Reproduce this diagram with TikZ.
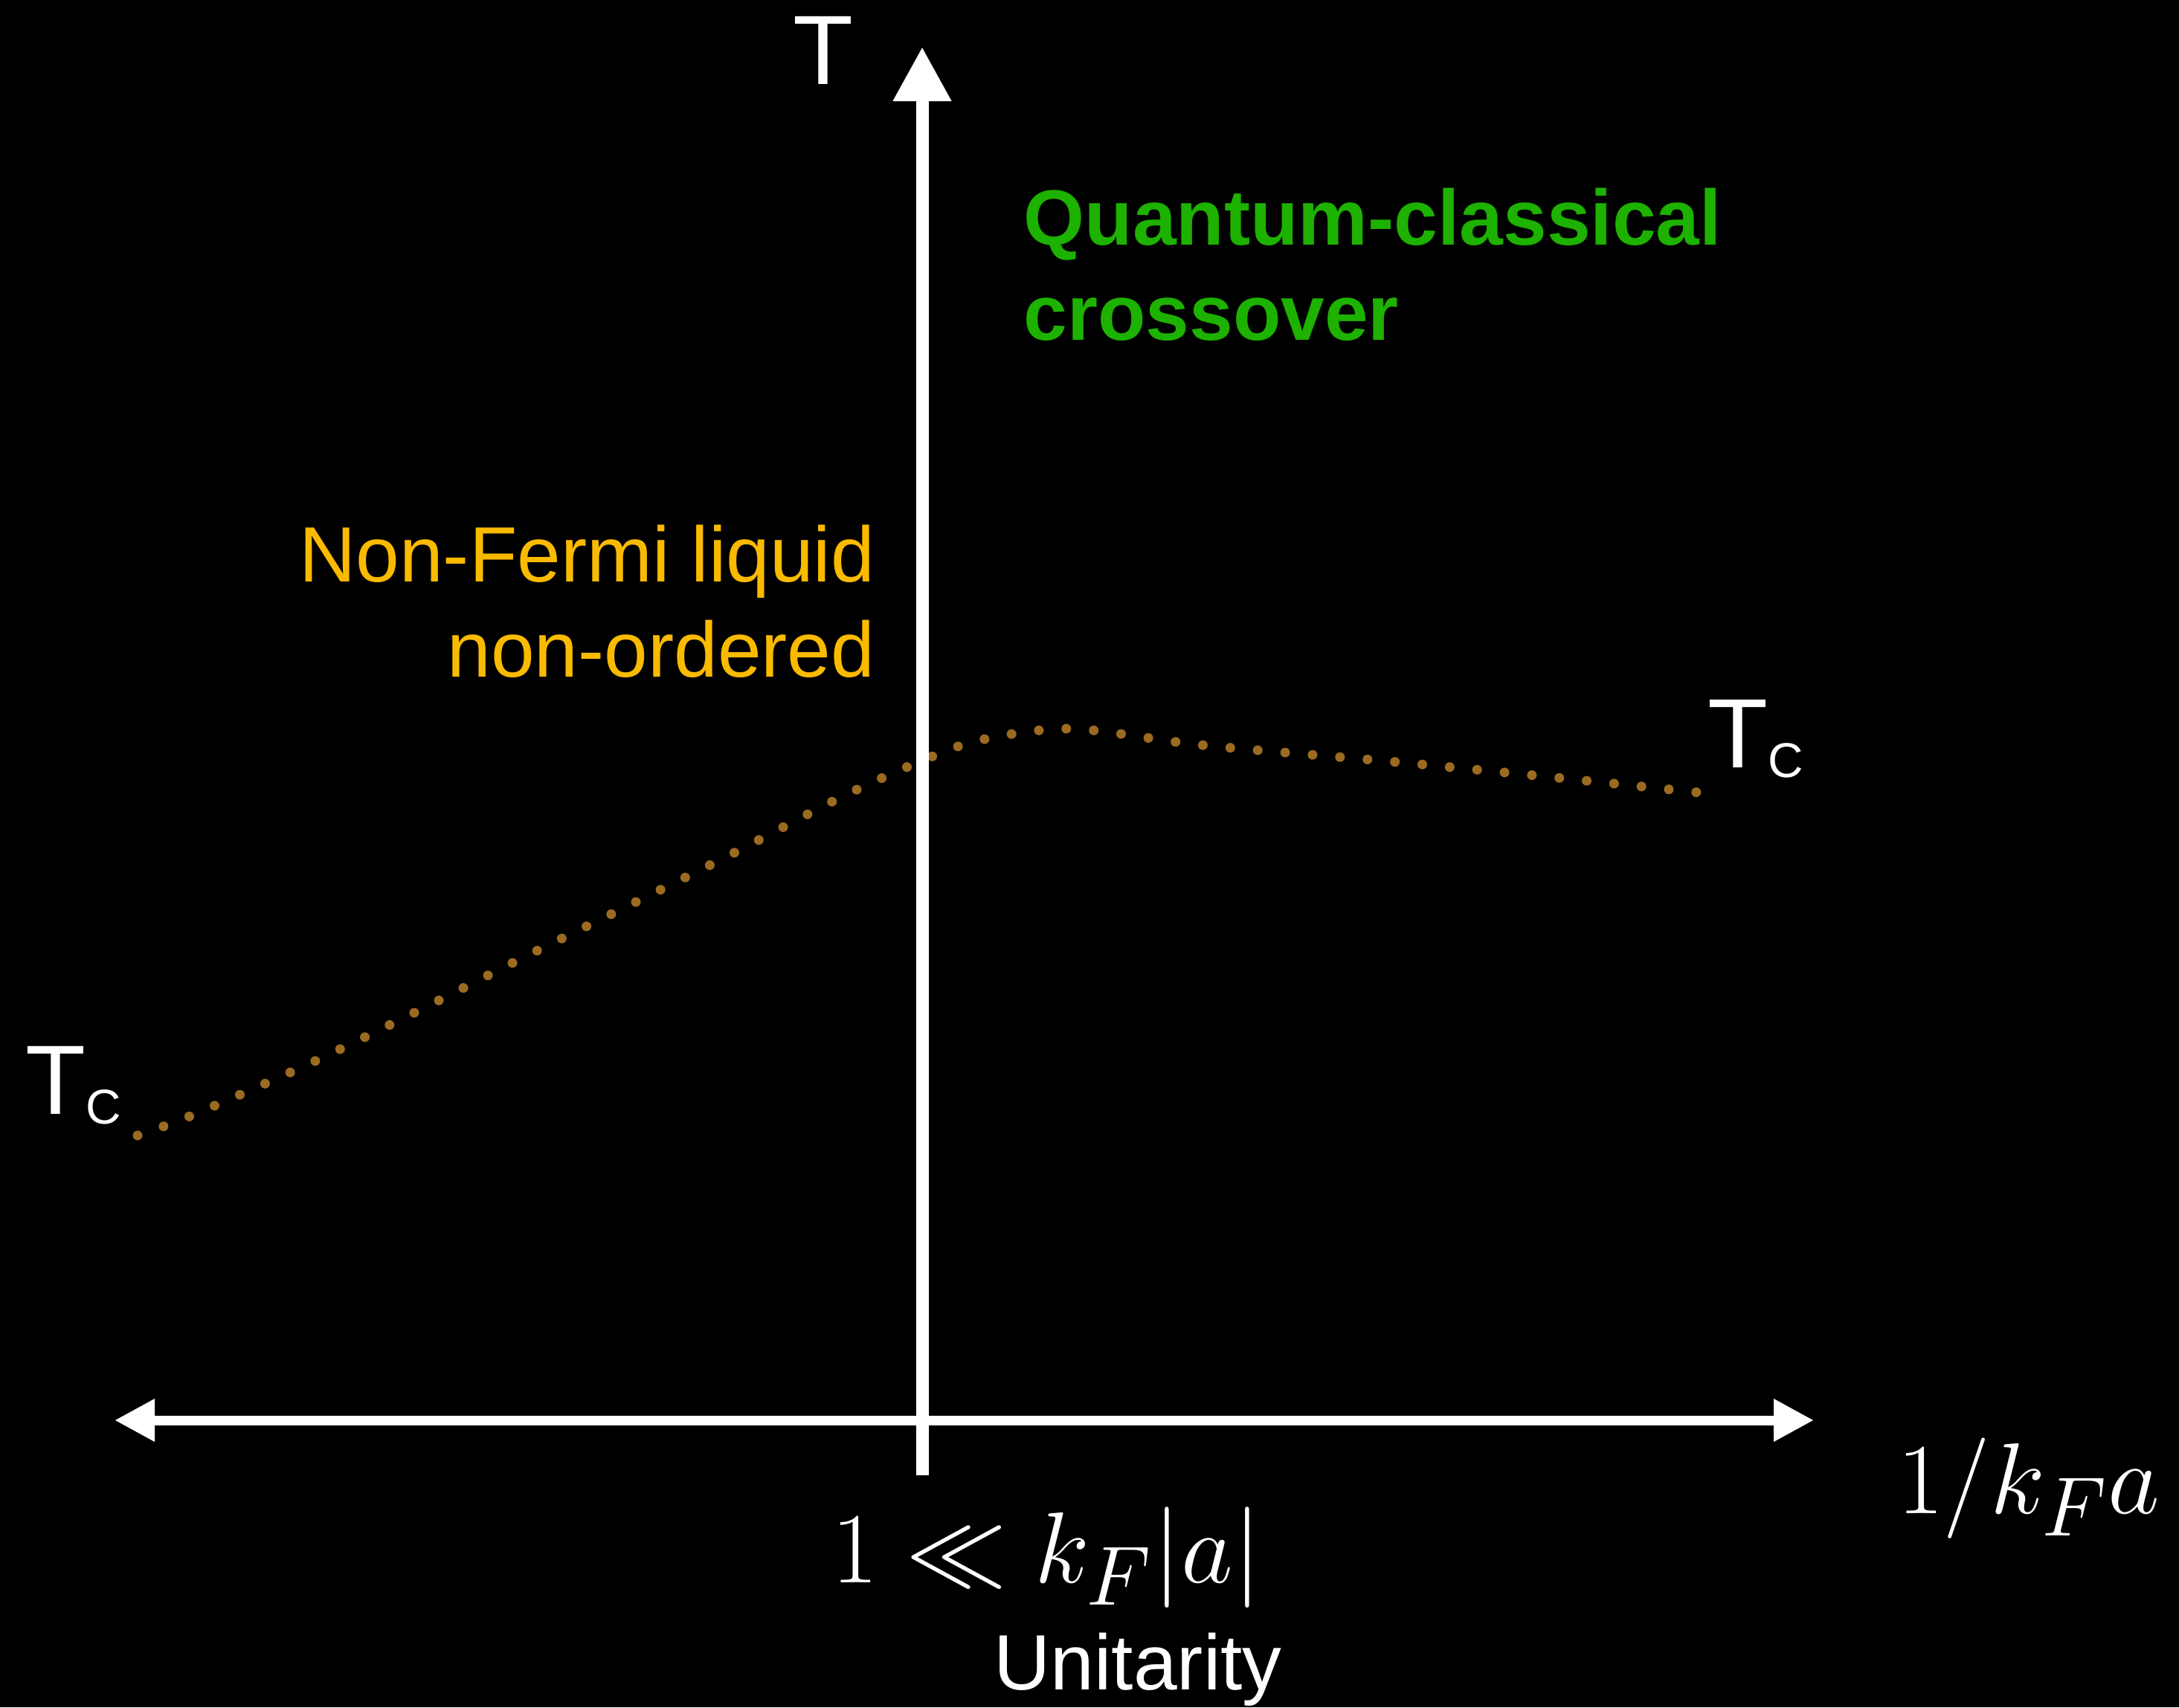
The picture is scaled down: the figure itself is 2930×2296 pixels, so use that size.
\documentclass[tikz,border=0pt]{standalone}
\usepackage{graphicx}
\usepackage{fontspec}
\usetikzlibrary{arrows.meta}
\newfontfamily\lsans{Liberation Sans}
\definecolor{crosscol}{HTML}{1DB100}
\definecolor{nflcol}{HTML}{F9BA00}
\definecolor{tccol}{HTML}{9B6B22}
\newcommand{\tclabel}{T\raisebox{-0.13cm}{\fontsize{18.7}{20}\selectfont C}}
\newcommand{\bigmath}[1]{\scalebox{1.55}{\Huge $#1$}}

\begin{document}
\begin{tikzpicture}[
    x=0.01cm, y=-0.01cm,
    every node/.style={inner sep=0pt, text=white},
    lbl/.style={font=\lsans\fontsize{30}{36.4}\selectfont},
    lblbf/.style={font=\lsans\bfseries\fontsize{30}{36.4}\selectfont},
    tlbl/.style={font=\lsans\fontsize{37.7}{40}\selectfont, anchor=base west},
    mathlbl/.style={anchor=base west},
    haxis/.style={line width=0.13cm, white,
                  {Triangle[length=0.54cm, width=0.54cm]}-{Triangle[length=0.54cm, width=0.54cm]}},
    vaxis/.style={line width=0.17cm, white, -{Triangle[length=0.73cm, width=0.74cm]}},
    tcline/.style={tccol, line width=0.13cm, line cap=round, dash pattern=on 0pt off 0.37cm},
]

\fill[black] (0,0) rectangle (2930,2296);
\useasboundingbox (0,0) rectangle (2930,2296);

% Critical temperature
\draw[tcline] plot[smooth] coordinates {(185,1527) (258,1500) (415,1431) (561,1360)
    (701,1289) (845,1218) (987,1147) (1127,1074) (1228,1028) (1315,996) (1440,980)
    (1616,1002) (1869,1024) (2095,1046) (2295,1067)};

% Axes
\coordinate (xmin) at (154,1910);
\coordinate (xmax) at (2439,1910);
\coordinate (ymin) at (1240,1984);
\coordinate (ymax) at (1240,63);
\draw[haxis] (xmin) -- (xmax);
\draw[vaxis] (ymin) -- (ymax);

% Labels
\node[tlbl] (tlab) at (1066,113) {T};
\node[tlbl] (tcleft) at (34,1498) {\tclabel};
\node[tlbl] (tcright) at (2296,1032) {\tclabel};
\node[mathlbl] (xlab) at (2551,2035) {\bigmath{1/k_Fa}};
\node[mathlbl] (unitlim) at (1118,2128) {\bigmath{1\ll k_F|a|}};
\node[lbl, anchor=base west] (unit) at (1336,2272) {Unitarity};

% Regions
\node[lblbf, text=crosscol, align=left, anchor=base west] (qcc)
    at (1376,457) {Quantum-classical\\crossover};
\node[lbl, text=nflcol, align=right, anchor=base east] (nfl)
    at (1177,910) {Non-Fermi liquid\\non-ordered};

\end{tikzpicture}
\end{document}
